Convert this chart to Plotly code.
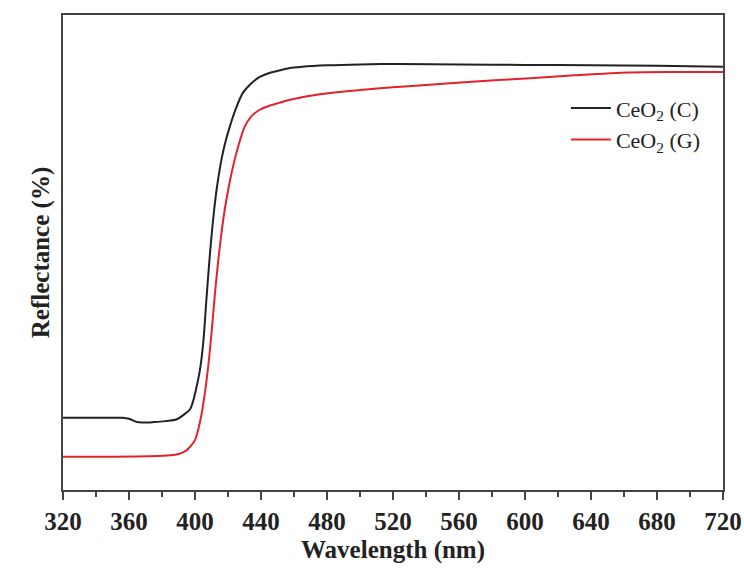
import plotly.graph_objects as go

# Wavelength (nm) and reflectance (%, arbitrary scale)
wl_c = [320, 340, 356, 360, 364, 368, 375, 382, 389, 393, 397, 399, 401, 403, 405,
        407, 409, 411, 413, 416, 418, 421, 425, 429, 434, 439, 445, 451, 457, 465,
        480, 500, 524, 560, 600, 640, 680, 720]
refl_c = [15.2, 15.2, 15.2, 15.0, 14.4, 14.2, 14.3, 14.5, 14.9, 15.8, 17.0, 18.9, 21.8,
          25.3, 31.0, 40.5, 49.5, 57.0, 63.0, 69.5, 72.7, 76.4, 80.5, 83.6, 85.6, 86.9,
          87.8, 88.3, 88.8, 89.1, 89.4, 89.6, 89.7, 89.6, 89.5, 89.4, 89.3, 89.1]

wl_g = [320, 350, 380, 388, 392, 395, 398, 400, 402, 404, 406, 408, 410, 412, 414,
        416, 418, 421, 424, 427, 430, 434, 439, 445, 451, 457, 470, 482, 500, 520,
        542, 570, 603, 630, 663, 690, 720]
refl_g = [7.0, 7.0, 7.2, 7.4, 7.8, 8.4, 9.5, 10.5, 12.8, 16.0, 20.5, 26.0, 33.0, 41.0,
          48.0, 54.0, 59.0, 64.8, 69.5, 73.3, 76.4, 78.6, 80.0, 80.9, 81.5, 82.1, 83.0,
          83.6, 84.2, 84.8, 85.3, 86.0, 86.7, 87.3, 87.9, 88.0, 88.0]

names = ["CeO<sub>2</sub> (C)", "CeO<sub>2</sub> (G)"]
colors = ["#222222", "#e3222b"]

x_ticks = list(range(320, 721, 40))

serif = "Liberation Serif, Times New Roman, serif"

fig = go.Figure()
fig.add_trace(go.Scatter(x=wl_c, y=refl_c, mode="lines", name=names[0],
                         line=dict(color=colors[0], width=2, shape="spline", smoothing=0.8)))
fig.add_trace(go.Scatter(x=wl_g, y=refl_g, mode="lines", name=names[1],
                         line=dict(color=colors[1], width=2, shape="spline", smoothing=0.8)))

fig.update_layout(
    width=744, height=575,
    margin=dict(l=63, r=21, t=15, b=85, autoexpand=False),
    paper_bgcolor="white", plot_bgcolor="white",
    font=dict(family=serif, color="#222222"),
    showlegend=True,
    legend=dict(x=0.762, y=0.848, xanchor="left", yanchor="top",
                bgcolor="rgba(0,0,0,0)", font=dict(size=22, family=serif, color="#222222"),
                tracegroupgap=0, itemwidth=40),
    xaxis=dict(
        range=[320, 720], tickvals=x_ticks, ticktext=[f"<b>{t}</b>" for t in x_ticks],
        showgrid=False, zeroline=False, automargin=False,
        showline=True, linecolor="#444444", linewidth=2, mirror=True,
        ticks="outside", ticklen=8, tickwidth=1.5, tickcolor="#444444",
        minor=dict(dtick=20, ticks="outside", ticklen=5, tickwidth=1.5, tickcolor="#444444"),
        tickfont=dict(size=25, family=serif, color="#222222"),
        title=dict(text="<b>Wavelength (nm)</b>", font=dict(size=25, family=serif, color="#222222"),
                   standoff=6),
    ),
    yaxis=dict(
        range=[0, 100], showticklabels=False, ticks="",
        showgrid=False, zeroline=False, automargin=False,
        showline=True, linecolor="#444444", linewidth=2, mirror=True,
        title=dict(text="<b>Reflectance (%)</b>", font=dict(size=25, family=serif, color="#222222"),
                   standoff=4),
    ),
)

fig.write_html("out.html")
